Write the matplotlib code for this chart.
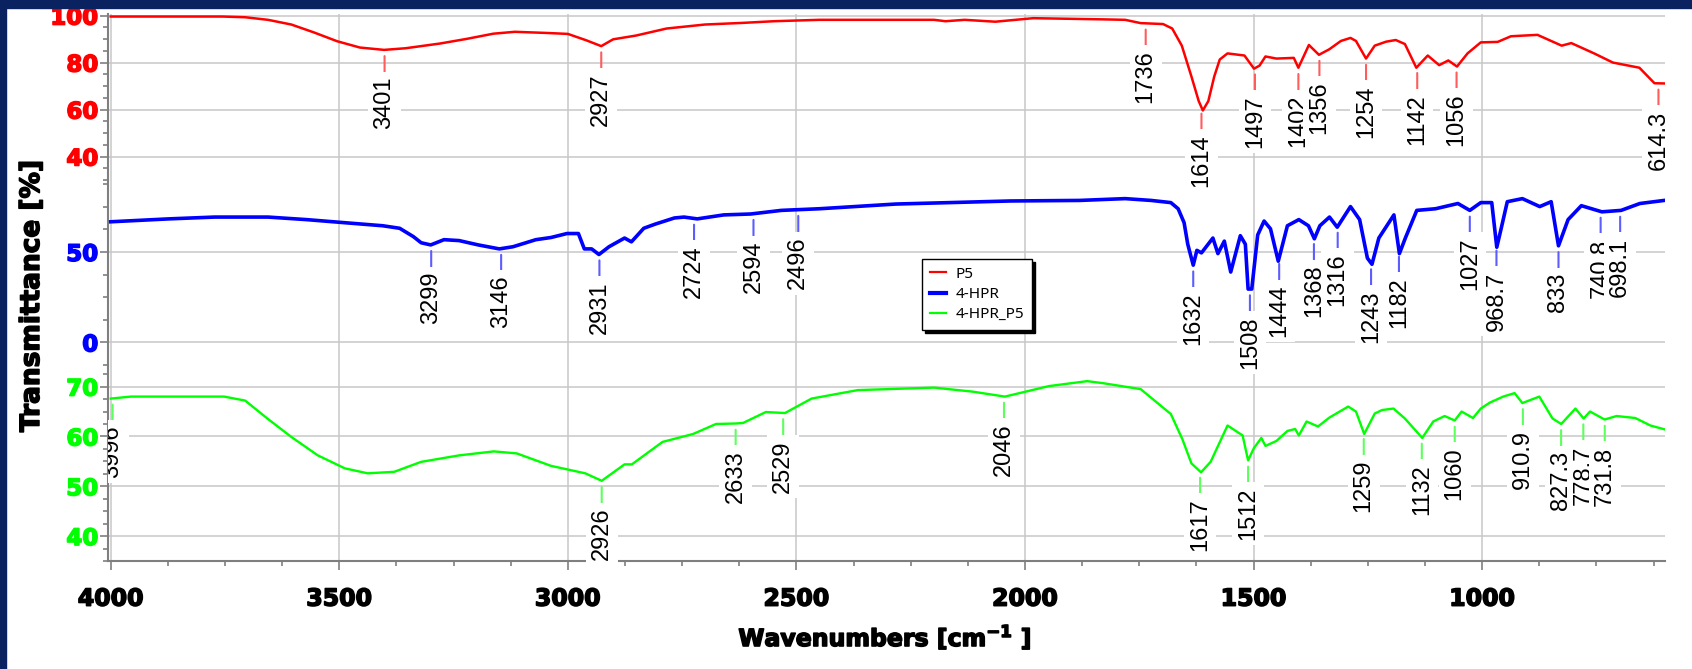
import numpy as np
import matplotlib
matplotlib.use('Agg')
import matplotlib.pyplot as plt
import matplotlib.patheffects as pe
from matplotlib.transforms import Bbox, TransformedBbox
from matplotlib.patches import Rectangle
from matplotlib.lines import Line2D

# P5 spectrum (wavenumber, transmittance %)
p5_wn = [4000, 3756, 3706, 3656, 3605, 3555, 3505, 3455, 3402, 3355, 3280, 3221, 3163, 3116,
         3045, 3000, 2960, 2927, 2901, 2851, 2784, 2700, 2617, 2550, 2450, 2199, 2174, 2132,
         2065, 1982, 1830, 1781, 1747, 1698, 1678, 1657, 1636, 1620, 1611, 1599, 1586, 1574,
         1557, 1520, 1499, 1487, 1474, 1450, 1412, 1402, 1392, 1379, 1357, 1334, 1309, 1288,
         1276, 1254, 1235, 1210, 1189, 1169, 1144, 1119, 1094, 1074, 1055, 1032, 1003, 966,
         937, 879, 826, 805, 755, 714, 656, 623, 600]
p5_t = [99.6, 99.6, 99.3, 98.2, 96.2, 92.8, 89.1, 86.4, 85.4, 86.1, 88.1, 90.1, 92.3, 93.1,
        92.6, 92.2, 89.5, 87.0, 89.9, 91.5, 94.5, 96.2, 96.9, 97.6, 98.2, 98.2, 97.6, 98.2,
        97.4, 98.9, 98.4, 98.2, 96.8, 96.4, 94.5, 87.2, 74.1, 63.6, 59.6, 63.6, 74.1, 81.3,
        83.9, 83.0, 77.4, 78.7, 82.6, 81.7, 82.0, 77.8, 82.0, 87.5, 83.3, 85.7, 89.2, 90.5,
        89.2, 81.7, 87.2, 88.9, 89.6, 87.9, 77.8, 83.0, 78.9, 80.9, 78.3, 83.9, 88.6, 88.8,
        91.2, 91.8, 87.2, 88.3, 83.9, 80.0, 77.8, 71.2, 71.1]
p5_peaks = [3401, 2927, 1736, 1614, 1497, 1402, 1356, 1254, 1142, 1056, 614.3]

# 4-HPR spectrum
hpr_wn = [4000, 3873, 3773, 3656, 3572, 3489, 3405, 3368, 3338, 3321, 3300, 3271, 3238, 3196,
          3150, 3120, 3070, 3037, 3002, 2977, 2964, 2948, 2932, 2910, 2876, 2861, 2834, 2809,
          2767, 2746, 2717, 2659, 2600, 2533, 2450, 2283, 2032, 1881, 1781, 1724, 1681, 1665,
          1652, 1644, 1632, 1624, 1614, 1589, 1578, 1564, 1550, 1529, 1518, 1512, 1504, 1491,
          1477, 1463, 1446, 1426, 1401, 1380, 1367, 1355, 1334, 1317, 1288, 1268, 1251, 1241,
          1226, 1193, 1181, 1168, 1143, 1102, 1053, 1027, 1003, 979, 968, 957, 945, 912, 874,
          849, 833, 812, 783, 738, 696, 655, 602]
hpr_t = [66.7, 68.3, 69.3, 69.3, 67.9, 66.2, 64.5, 63.1, 58.5, 55.1, 53.9, 56.8, 56.3, 53.9,
         51.7, 52.9, 56.8, 58.0, 60.2, 60.2, 51.7, 51.7, 48.6, 52.9, 57.7, 55.6, 63.1, 65.4,
         68.8, 69.3, 68.3, 70.5, 71.0, 73.0, 73.9, 76.5, 78.2, 78.5, 79.5, 78.5, 77.3, 73.9,
         66.2, 54.3, 42.7, 50.9, 49.5, 57.7, 49.1, 56.0, 38.9, 59.0, 54.3, 29.5, 29.5, 59.4,
         67.1, 62.8, 44.9, 64.5, 67.9, 64.5, 57.3, 64.5, 69.3, 63.7, 75.1, 67.9, 46.6, 43.2,
         57.7, 70.5, 49.1, 57.7, 73.0, 73.9, 76.8, 73.0, 77.3, 77.3, 52.6, 64.5, 77.8, 79.5, 75.1,
         77.8, 53.4, 67.9, 75.6, 72.2, 73.0, 76.8, 78.5]
hpr_peaks = [3299, 3146, 2931, 2724, 2594, 2496, 1632, 1508, 1444, 1368, 1316, 1243, 1182,
             1027, 968.7, 833, 740.8, 698.1]

# 4-HPR_P5 spectrum
mix_wn = [4000, 3956, 3752, 3706, 3656, 3605, 3547, 3488, 3438, 3380, 3321, 3238, 3162, 3112,
          3037, 2962, 2926, 2876, 2860, 2793, 2726, 2676, 2633, 2617, 2567, 2525, 2467, 2366,
          2199, 2115, 2044, 1948, 1864, 1830, 1747, 1681, 1656, 1636, 1615, 1594, 1557, 1524,
          1512, 1499, 1483, 1474, 1450, 1426, 1409, 1401, 1384, 1359, 1334, 1293, 1276, 1258,
          1235, 1219, 1194, 1169, 1131, 1107, 1082, 1060, 1045, 1020, 1003, 983, 954, 929, 912,
          875, 846, 827, 796, 778, 764, 732, 706, 665, 632, 600]
mix_t = [67.6, 68.0, 68.0, 67.2, 63.5, 59.9, 56.2, 53.6, 52.6, 52.9, 54.9, 56.2, 57.0, 56.6,
         54.1, 52.6, 51.1, 54.4, 54.4, 58.9, 60.5, 62.5, 62.6, 62.7, 64.9, 64.7, 67.6, 69.3,
         69.8, 69.0, 68.0, 70.1, 71.1, 70.7, 69.5, 64.5, 59.5, 54.6, 52.8, 54.9, 62.2, 60.2,
         55.2, 57.7, 59.7, 58.1, 59.1, 61.1, 61.5, 60.2, 63.0, 62.0, 63.8, 66.0, 65.0, 60.5,
         64.6, 65.3, 65.6, 63.6, 59.7, 63.0, 64.1, 63.2, 65.0, 63.7, 65.6, 66.8, 68.0, 68.7, 66.7,
         68.0, 63.6, 62.5, 65.6, 63.6, 65.0, 63.4, 64.1, 63.7, 62.2, 61.4]
mix_peaks = [3996, 2926, 2633, 2529, 2046, 1617, 1512, 1259, 1132, 1060, 910.9, 827.3, 778.7,
             731.8]

series_names = ['P5', '4-HPR', '4-HPR_P5']

W, H = 1692, 669
fig = plt.figure(figsize=(W / 100, H / 100), dpi=100)
fig.patch.set_facecolor('white')

x_left, x_right = 108, 1665
clip = TransformedBbox(Bbox.from_extents(x_left / W, 0, x_right / W, 1), fig.transFigure)

grid_c = '#c8c8c8'
spine_c = '#7f7f7f'


def heavy(color):
    # thicken bold text a little, the original uses a black-weight face
    return [pe.withStroke(linewidth=1.1, foreground=color)]


def make_axes(top, bottom, z):
    ax = fig.add_axes([x_left / W, 1 - bottom / H, (x_right - x_left) / W, (bottom - top) / H])
    ax.set_zorder(z)
    ax.patch.set_visible(False)
    ax.set_xlim(4006, 600)
    ax.set_xticks(np.arange(4000, 999, -500))
    ax.grid(True, which='major', color=grid_c, lw=1.1)
    ax.set_axisbelow(True)
    for s in ['top', 'right', 'bottom']:
        ax.spines[s].set_visible(False)
    ax.spines['left'].set_color(spine_c)
    ax.spines['left'].set_linewidth(1.5)
    ax.tick_params(axis='y', which='both', color=spine_c, width=1.2, pad=1)
    ax.tick_params(axis='y', which='major', length=6)
    ax.tick_params(axis='y', which='minor', length=3.5)
    ax.tick_params(axis='x', which='both', length=0, labelbottom=False)
    return ax


def set_y(ax, lim, major, minor, color):
    ax.set_ylim(*lim)
    ax.set_yticks(major)
    labels = ax.set_yticklabels([str(v) for v in major], fontsize=16.5, fontweight='bold',
                                color=color, family='DejaVu Sans')
    for lb in labels:
        lb.set_path_effects(heavy(color))
    ax.set_yticks(np.arange(lim[0] - lim[0] % minor, lim[1], minor), minor=True)


def label_peaks(ax, wn, t, peaks, line_c):
    xp = np.array(wn[::-1], float)
    fp = np.array(t[::-1], float)
    for p in peaks:
        y = np.interp(p, xp, fp)
        ann = ax.annotate(f'{p:g}', xy=(p, y), xytext=(0, -19.5), textcoords='offset points',
                          rotation=90, ha='center', va='top', fontsize=17,
                          family='Liberation Sans', color='black', zorder=6,
                          bbox=dict(boxstyle='square,pad=0.22', fc='white', ec='none'),
                          arrowprops=dict(arrowstyle='-', color=line_c, lw=1.5,
                                          shrinkA=0, shrinkB=4.5))
        ann.set_clip_box(clip)
        ann.set_clip_on(True)


ax_r = make_axes(14, 180, 3)
ax_b = make_axes(180, 365, 2)
ax_g = make_axes(365, 561, 1)

ax_r.plot(p5_wn, p5_t, color='#ff0000', lw=1.8, zorder=3)
ax_b.plot(hpr_wn, hpr_t, color='#0000ff', lw=2.6, zorder=3)
ax_g.plot(mix_wn, mix_t, color='#00ff00', lw=1.7, zorder=3)

set_y(ax_r, (34.28, 100.68), [40, 60, 80, 100], 5, '#ff0000')
set_y(ax_b, (-4.59, 89.8), [0, 50], 12.5, '#0000ff')
set_y(ax_g, (35.66, 74.34), [40, 50, 60, 70], 2.5, '#00ff00')

label_peaks(ax_r, p5_wn, p5_t, p5_peaks, '#ff5c5c')
label_peaks(ax_b, hpr_wn, hpr_t, hpr_peaks, '#5c5cff')
label_peaks(ax_g, mix_wn, mix_t, mix_peaks, '#5cff5c')

# bottom axis only on the lowest panel
ax_g.spines['bottom'].set_visible(True)
ax_g.spines['bottom'].set_color(spine_c)
ax_g.spines['bottom'].set_linewidth(1.5)
ax_g.set_xticks(np.arange(4000, 599, -125), minor=True)
ax_g.tick_params(axis='x', which='major', length=6.5, color=spine_c, width=1.2,
                 labelbottom=True, pad=12)
ax_g.tick_params(axis='x', which='minor', length=3.5, color=spine_c, width=1.2)
xl = ax_g.set_xticklabels([str(v) for v in np.arange(4000, 999, -500)], fontsize=17,
                          fontweight='bold', family='DejaVu Sans')
for lb in xl:
    lb.set_path_effects(heavy('black'))

fig.text(32 / W, 1 - 296 / H, 'Transmittance [%]', rotation=90, ha='center', va='center',
         fontsize=19, fontweight='bold', family='DejaVu Sans', path_effects=heavy('black'))
fig.text(885 / W, 1 - 637 / H, r'Wavenumbers [cm$^{\mathbf{-1}}$ ]', ha='center',
         va='center', fontsize=17, fontweight='bold', family='DejaVu Sans',
         path_effects=heavy('black'))

handles = [Line2D([], [], color='#ff0000', lw=1.6),
           Line2D([], [], color='#0000ff', lw=3.0),
           Line2D([], [], color='#00ff00', lw=1.6)]
leg = fig.legend(handles, series_names, loc='upper left', bbox_to_anchor=(922 / W, 1 - 259 / H),
                 frameon=True, fancybox=False, edgecolor='black', framealpha=1,
                 shadow={'color': 'black', 'alpha': 1}, prop={'family': 'Noto Sans', 'size': 11},
                 handlelength=1.1, handletextpad=0.6, borderpad=0.5, labelspacing=0.35,
                 borderaxespad=0)
leg.get_frame().set_linewidth(1.0)
leg.set_zorder(10)

# slide border
fig.add_artist(Rectangle((0, 1 - 8 / H), 1, 8 / H, transform=fig.transFigure,
                         color='#0b2260', zorder=20))
fig.add_artist(Rectangle((0, 0), 6 / W, 1, transform=fig.transFigure,
                         color='#0b2260', zorder=20))

fig.savefig('out.png', dpi=100)
